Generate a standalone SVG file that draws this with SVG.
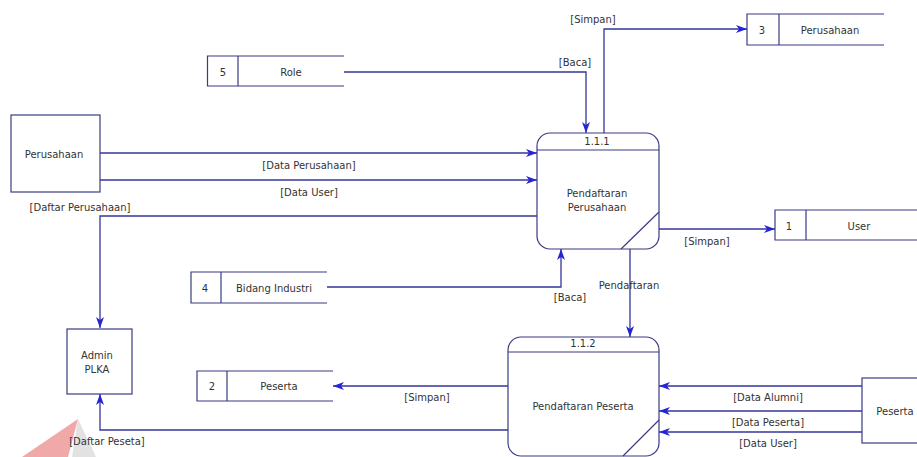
<svg xmlns="http://www.w3.org/2000/svg" width="917" height="457" viewBox="0 0 917 457">
<defs>
<marker id="arr" markerUnits="userSpaceOnUse" markerWidth="12" markerHeight="9" refX="11" refY="4" orient="auto">
<path d="M0,0 L11,4 L0,8 L3,4 Z" fill="#2525d8"/>
</marker>
<style>
.shape{fill:#fff;stroke:#3b3b85;stroke-width:1.2}
.ln{fill:none;stroke:#3b3b85;stroke-width:1.2}
.cn{fill:none;stroke:#34349a;stroke-width:1.3}
.ar{marker-end:url(#arr)}
text{font-family:"DejaVu Sans","Liberation Sans",Arial,sans-serif;font-size:10px;fill:#333;text-anchor:middle}
</style>
</defs>
<rect width="917" height="457" fill="#fff"/>
<g id="watermark">
<polygon points="22,457 78,419 68,457" fill="#f0a8a8"/>
<polygon points="78,419 96,457 72,457" fill="#e2e2e2"/>
</g>
<g id="connectors">
<path class="cn ar" d="M100,153 H537"/>
<path class="cn ar" d="M100,180 H537"/>
<path class="cn ar" d="M537,216 H100 V328"/>
<path class="cn ar" d="M344,72 H586 V133"/>
<path class="cn ar" d="M604,133 V29 H747"/>
<path class="cn ar" d="M659,229 H775"/>
<path class="cn ar" d="M327,287 H561 V249"/>
<path class="cn ar" d="M630,249 V337"/>
<path class="cn ar" d="M508,386 H333"/>
<path class="cn ar" d="M508,430 H100 V394"/>
<path class="cn ar" d="M862,386 H659"/>
<path class="cn ar" d="M862,411 H659"/>
<path class="cn ar" d="M862,432 H659"/>
<text x="593" y="23">[Simpan]</text>
<text x="575" y="66">[Baca]</text>
<text x="309" y="169">[Data Perusahaan]</text>
<text x="309" y="196">[Data User]</text>
<text x="80" y="211">[Daftar Perusahaan]</text>
<text x="707" y="245">[Simpan]</text>
<text x="570" y="301">[Baca]</text>
<text x="629" y="289">Pendaftaran</text>
<text x="427" y="401">[Simpan]</text>
<text x="107" y="445">[Daftar Peseta]</text>
<text x="768" y="401">[Data Alumni]</text>
<text x="768" y="426">[Data Peserta]</text>
<text x="768" y="447">[Data User]</text>
</g>
<g id="perusahaan-entity">
<rect class="shape" x="11" y="115" width="89" height="77"/>
<text x="54" y="158">Perusahaan</text>
</g>
<g id="admin-plka">
<rect class="shape" x="67" y="329" width="65" height="65"/>
<text x="97" y="359">Admin</text>
<text x="97" y="373">PLKA</text>
</g>
<g id="peserta-entity">
<rect class="shape" x="862" y="378" width="70" height="65"/>
<text x="895" y="415">Peserta</text>
</g>
<g id="store-5-role">
<path class="ln" d="M344,56 H207.5 V86 H344 M238,56 V86"/>
<text x="223" y="76">5</text>
<text x="291" y="76">Role</text>
</g>
<g id="store-3-perusahaan">
<path class="ln" d="M884,14 H747 V45 H884 M779,14 V45"/>
<text x="762" y="34">3</text>
<text x="830" y="34">Perusahaan</text>
</g>
<g id="store-1-user">
<path class="ln" d="M917,210 H775 V240 H917 M806,210 V240"/>
<text x="789" y="230">1</text>
<text x="859" y="230">User</text>
</g>
<g id="store-4-bidang">
<path class="ln" d="M327,272 H191 V303 H327 M221,272 V303"/>
<text x="205" y="292">4</text>
<text x="274" y="292">Bidang Industri</text>
</g>
<g id="store-2-peserta">
<path class="ln" d="M333,371 H197 V401 H333 M227,371 V401"/>
<text x="212" y="390">2</text>
<text x="279" y="390">Peserta</text>
</g>
<g id="process-1-1-1">
<rect class="shape" x="537" y="133" width="122" height="116" rx="13"/>
<path class="ln" d="M537,150 H659 M659,212 L621,249"/>
<text x="597" y="145">1.1.1</text>
<text x="597" y="197">Pendaftaran</text>
<text x="597" y="211">Perusahaan</text>
</g>
<g id="process-1-1-2">
<rect class="shape" x="508" y="337" width="151" height="119" rx="13"/>
<path class="ln" d="M508,352 H659 M659,420 L623,456"/>
<text x="583" y="347">1.1.2</text>
<text x="583" y="410">Pendaftaran Peserta</text>
</g>
</svg>
